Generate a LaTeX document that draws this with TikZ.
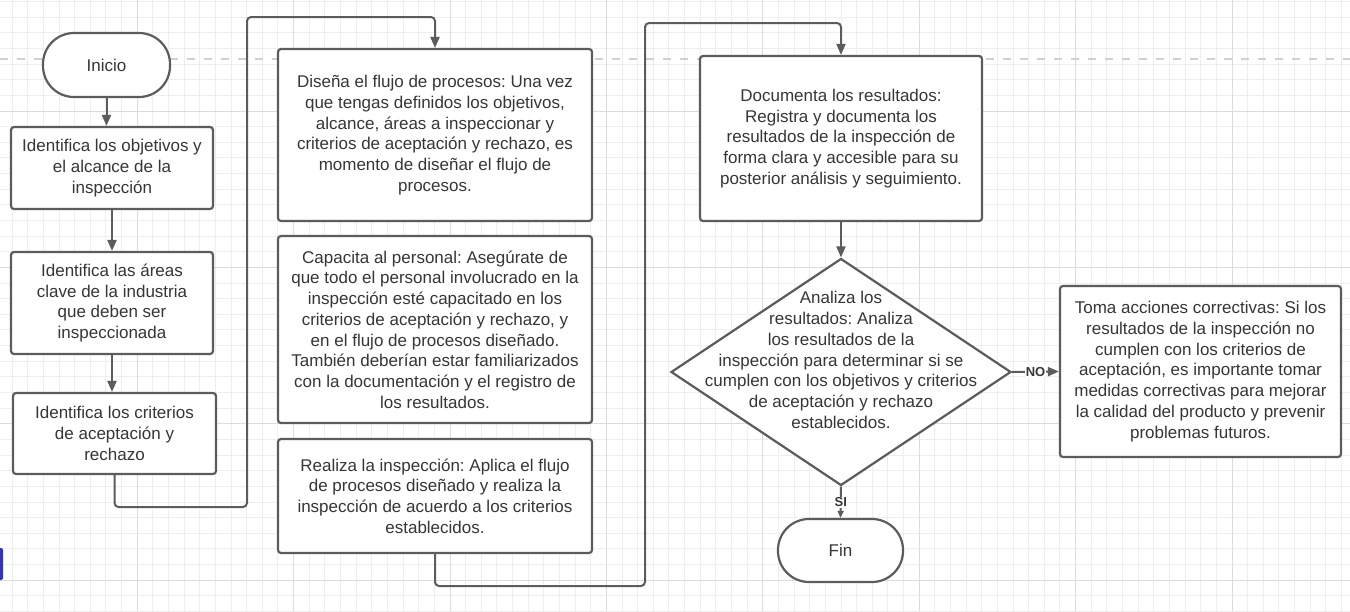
\documentclass[tikz,border=0pt]{standalone}
\usepackage{fontspec}
\setmainfont{Liberation Sans}
\usepackage{tikz}
\usetikzlibrary{arrows.meta}
\usetikzlibrary{shapes.geometric}
\definecolor{lineagris}{HTML}{5C5C5C}
\definecolor{textogris}{HTML}{363636}
\definecolor{cuadricula}{HTML}{EEEEEE}
\definecolor{cuadriculafuerte}{HTML}{DCDCDC}
\definecolor{punteada}{HTML}{D0D0D0}
\definecolor{azulbarra}{HTML}{3434B8}
\frenchspacing

\begin{document}
\begin{tikzpicture}[x=1pt, y=-1pt,
	caja/.style={draw=lineagris, line width=2.2pt, fill=white, rounded corners=3pt, inner sep=0pt, align=center, text=textogris, font=\fontsize{17}{20.7}\selectfont},
	terminal/.style={caja, rounded corners=31pt},
	rombo/.style={draw=lineagris, line width=2.2pt, fill=white, diamond, inner sep=0pt, minimum width=340pt, minimum height=227pt},
	flecha/.style={draw=lineagris, line width=2pt, -{Triangle[length=11pt,width=9pt]}},
	etiqueta/.style={fill=white, inner sep=1pt, text=textogris, font=\fontsize{13}{15}\selectfont\bfseries}]
								\useasboundingbox (0,0) rectangle (1350,611);
								\fill[white] (0,0) rectangle (1350,611);

								\foreach \i in {0,...,87} \draw[cuadricula, line width=1pt] ({-3.56+15.64*\i},0) -- ++(0,611);
								\foreach \i in {0,...,39} \draw[cuadricula, line width=1pt] (0,{1.52+15.64*\i}) -- ++(1350,0);
								\foreach \i in {0,...,7} \draw[cuadriculafuerte, line width=1pt] ({137.2+156.4*\i},0) -- ++(0,611);
								\foreach \j in {111,267.4,423.8,580.2} \draw[cuadriculafuerte, line width=1pt] (0,\j) -- ++(1350,0);
								\draw[punteada, line width=1.5pt, dash pattern=on 8pt off 9pt] (0,59) -- (1350,59);
								\fill[azulbarra, rounded corners=2pt] (-4,548) rectangle (3,580);

								\node[terminal, minimum width=127pt, minimum height=64pt] (inicio) at (106.5,65) {Inicio};
								\node[caja, minimum width=202pt, minimum height=82pt] (objetivos) at (112,168) {Identifica los objetivos y\\el alcance de la\\inspección};
								\node[caja, minimum width=202pt, minimum height=102pt] (areas) at (112,303) {Identifica las áreas\\clave de la industria\\que deben ser\\inspeccionada};
								\node[caja, minimum width=203pt, minimum height=81pt] (criterios) at (114.5,433.5) {Identifica los criterios\\de aceptación y\\rechazo};

								\node[caja, minimum width=314pt, minimum height=172pt] (flujo) at (435,135) {Diseña el flujo de procesos: Una vez\\que tengas definidos los objetivos,\\alcance, áreas a inspeccionar y\\criterios de aceptación y rechazo, es\\momento de diseñar el flujo de\\procesos.};
								\node[caja, minimum width=314pt, minimum height=187pt] (capacita) at (435,329.5) {Capacita al personal: Asegúrate de\\que todo el personal involucrado en la\\inspección esté capacitado en los\\criterios de aceptación y rechazo, y\\en el flujo de procesos diseñado.\\También deberían estar familiarizados\\con la documentación y el registro de\\los resultados.};
								\node[caja, minimum width=314pt, minimum height=114pt] (realiza) at (435,496) {Realiza la inspección: Aplica el flujo\\de procesos diseñado y realiza la\\inspección de acuerdo a los criterios\\establecidos.};

								\node[caja, minimum width=282pt, minimum height=165pt] (documenta) at (841,138.5) {Documenta los resultados:\\Registra y documenta los\\resultados de la inspección de\\forma clara y accesible para su\\posterior análisis y seguimiento.};
								\node[rombo] (analiza) at (841,372) {};
								\node[caja, draw=none, fill=none] (analizatxt) at (841,360) {Analiza los\\resultados: Analiza\\los resultados de la\\inspección para determinar si se\\cumplen con los objetivos y criterios\\de aceptación y rechazo\\establecidos.};
								\node[terminal, minimum width=125pt, minimum height=63pt] (fin) at (840.5,550.5) {Fin};
								\node[caja, minimum width=281pt, minimum height=171pt] (acciones) at (1200.5,371.5) {Toma acciones correctivas: Si los\\resultados de la inspección no\\cumplen con los criterios de\\aceptación, es importante tomar\\medidas correctivas para mejorar\\la calidad del producto y prevenir\\problemas futuros.};

								\coordinate (c1) at (247,507);
								\coordinate (c2) at (247,17);
								\coordinate (c3) at (645,586);
								\coordinate (c4) at (645,23);

								\draw[flecha] (inicio.south) -- (inicio.south |- objetivos.north);
								\draw[flecha] (objetivos) -- (areas);
								\draw[flecha] (areas.south) -- (areas.south |- criterios.north);
								\draw[flecha, rounded corners=4pt] (criterios.south) |- (c1) -- (c2) -| (flujo.north);
								\draw[flecha, rounded corners=4pt] (realiza.south) |- (c3) -- (c4) -| (documenta.north);
								\draw[flecha] (documenta) -- (analiza);
								\draw[flecha, -{Triangle[length=7pt,width=6pt]}] (analiza.south) -- node[etiqueta] {SI} (fin.north);
								\draw[flecha] (analiza.east) -- node[etiqueta] {NO} (acciones.west);
							\end{tikzpicture}
\end{document}
